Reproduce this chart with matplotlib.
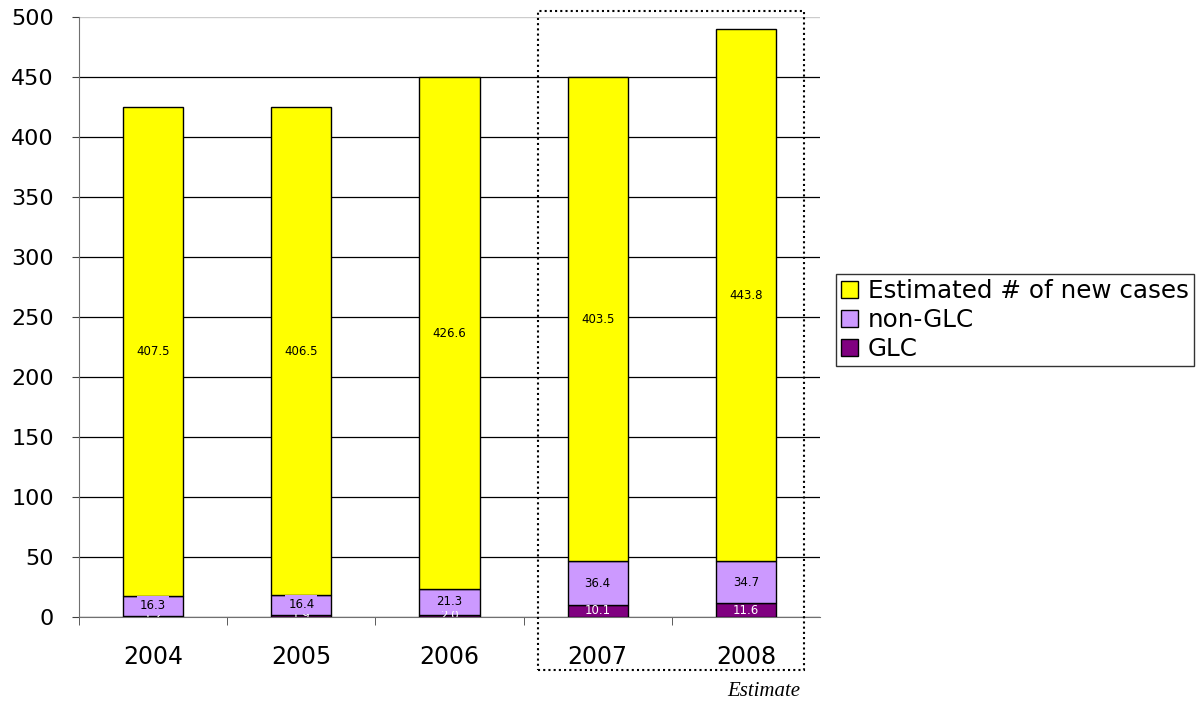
import matplotlib.pyplot as plt
import matplotlib.patches as patches
import numpy as np

plt.rcParams['font.family'] = ['DejaVu Sans']

years = ['2004', '2005', '2006', '2007', '2008']
glc = [1.2, 1.9, 2.0, 10.1, 11.6]
non_glc = [16.3, 16.4, 21.3, 36.4, 34.7]
new_cases = [407.5, 406.5, 426.6, 403.5, 443.8]

c_new = '#FFFF00'
c_non = '#CC99FF'
c_glc = '#800080'

fig = plt.figure(figsize=(11.98, 7.04), dpi=100)
ax = fig.add_axes([79 / 1198, 87 / 704, 741 / 1198, 600 / 704])

x = np.arange(len(years))
w = 0.405
b1 = ax.bar(x, glc, w, color=c_glc, edgecolor='black', linewidth=1, label='GLC', zorder=3)
b2 = ax.bar(x, non_glc, w, bottom=glc, color=c_non, edgecolor='black', linewidth=1,
            label='non-GLC', zorder=3)
bottom3 = np.array(glc) + np.array(non_glc)
b3 = ax.bar(x, new_cases, w, bottom=bottom3, color=c_new, edgecolor='black', linewidth=1,
            label='Estimated # of new cases', zorder=3)

# segment value labels, boxed in the segment colour
for i in range(len(years)):
    ax.text(x[i], glc[i] / 2, f'{glc[i]:.1f}', ha='center', va='center', fontsize=8.5,
            color='white', zorder=4, clip_on=True)
    ax.text(x[i], glc[i] + non_glc[i] / 2, f'{non_glc[i]:.1f}', ha='center', va='center',
            fontsize=8.5, color='black', zorder=5,
            bbox=dict(boxstyle='square,pad=0.25', facecolor=c_non, edgecolor='none'))
    ax.text(x[i], bottom3[i] + new_cases[i] / 2, f'{new_cases[i]:.1f}', ha='center',
            va='center', fontsize=8.5, color='black', zorder=4)

ax.set_ylim(0, 500)
ax.set_xlim(-0.5, 4.5)
ax.set_yticks(np.arange(0, 501, 50))
ax.tick_params(axis='y', labelsize=16, length=5, color='#404040', pad=13)
ax.set_xticks(x)
ax.set_xticklabels(years, fontsize=17)
ax.tick_params(axis='x', which='major', length=0, pad=20)
ax.set_xticks(np.arange(-0.5, 4.6, 1.0)[:-1], minor=True)
ax.tick_params(axis='x', which='minor', length=6, color='#404040')

ax.yaxis.grid(True, color='black', linewidth=0.9, zorder=0)
ax.set_axisbelow(True)
for s in ['top', 'right']:
    ax.spines[s].set_visible(False)
ax.spines['left'].set_color('#707070')
ax.spines['bottom'].set_color('#707070')
ax.axhline(500, color='#cccccc', linewidth=1, zorder=1)
ax.get_ygridlines()[-1].set_visible(False)

handles = [b3, b2, b1]
leg = fig.legend(handles, [h.get_label() for h in handles], loc='upper left',
                 bbox_to_anchor=(836 / 1198, 1 - 274 / 704), fontsize=17.7,
                 frameon=True, fancybox=False, edgecolor='black',
                 handlelength=0.7, handleheight=0.7, handletextpad=0.4,
                 borderpad=0.2, labelspacing=0.2, borderaxespad=0)
leg.get_frame().set_linewidth(1)

# dotted frame around the estimated years
rect = patches.Rectangle((538 / 1198, 34 / 704), 266 / 1198, 659 / 704,
                         transform=fig.transFigure, fill=False, linestyle=(0, (1, 1.5)),
                         linewidth=1.5, edgecolor='black')
fig.patches.append(rect)
fig.text(800 / 1198, 1 - 691 / 704, 'Estimate', ha='right', va='center',
         fontsize=15, style='italic', family='Liberation Serif')

fig.savefig('out.png', dpi=100)
